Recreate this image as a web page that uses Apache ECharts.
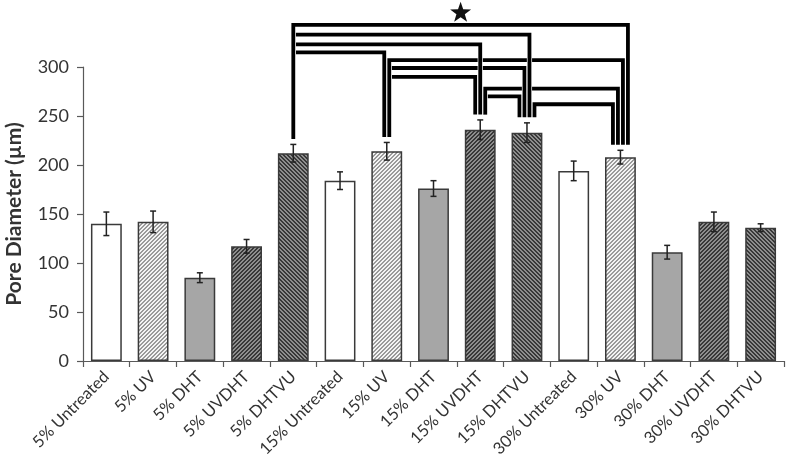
<!DOCTYPE html>
<html><head><meta charset="utf-8">
<script src="https://cdn.jsdelivr.net/npm/echarts@6/dist/echarts.min.js"></script>
<style>html,body{margin:0;padding:0;background:#fff}#c{width:787px;height:462px}</style>
</head><body><div id="c"></div>
<script>
// ---- data ----
const categories = ['5% Untreated','5% UV','5% DHT','5% UVDHT','5% DHTVU',
  '15% Untreated','15% UV','15% DHT','15% UVDHT','15% DHTVU',
  '30% Untreated','30% UV','30% DHT','30% UVDHT','30% DHTVU'];
const values = [140,142,85,117,212,184,214,176,236,233,194,208,111,142,136];
const errors = [12,11,5,7,9,9,9,8,10,10,10,7,7,10,4];
// significance brackets (category indices + bracket height in data units)
const bracketFrom  = [4,4,4,4,6,6,6,8,8,9];
const bracketTo    = [11,9,8,6,11,9,8,11,9,11];
const bracketLevel = [343,333,323,315,307,299,290,278,270,262];
const yTicks = [0,50,100,150,200,250,300];

// ---- styles ----
function makePattern(bg, fg, dir) {
  const n = 8, c = document.createElement('canvas');
  c.width = n; c.height = n;
  const ctx = c.getContext('2d');
  ctx.fillStyle = bg; ctx.fillRect(0,0,n,n);
  ctx.fillStyle = fg;
  for (let y=0;y<n;y++) for (let x=0;x<n;x++) {
    const k = dir > 0 ? (x+y)%4 : (((x-y)%4)+4)%4;
    if (k < 2) ctx.fillRect(x,y,1,1);
  }
  return {image: c, repeat: 'repeat'};
}
const fills = {
  'Untreated': '#ffffff',
  'UV': makePattern('#f4f4f4', '#9a9a9a', 1),
  'DHT': '#a6a6a6',
  'UVDHT': makePattern('#8e8e8e', '#383838', 1),
  'DHTVU': makePattern('#8e8e8e', '#383838', -1)
};
const barData = values.map((v,i) => ({
  value: v,
  itemStyle: {color: fills[categories[i].split(' ')[1]]}
}));

// slots for bracket vertical lines per bar
const incoming = {}, hasOut = {};
bracketFrom.forEach((f,k) => {
  hasOut[f] = true;
  (incoming[bracketTo[k]] = incoming[bracketTo[k]] || []).push(f);
});
function slotOffset(bar, src) { // src undefined => outgoing
  const inc = (incoming[bar] || []).slice().sort((a,b)=>b-a);
  const n = inc.length + (hasOut[bar] ? 1 : 0);
  const k = src === undefined ? inc.length : inc.indexOf(src);
  return (k - (n-1)/2) * 5;
}
const maxLevel = Math.max(...bracketLevel);
const order = bracketLevel.map((l,i)=>i).sort((a,b)=>bracketLevel[a]-bracketLevel[b]);

const chart = echarts.init(document.getElementById('c'));
const font = 'Lato, "Open Sans", sans-serif';
chart.setOption({
  animation: false,
  grid: {left: 83, right: 3, top: 67, bottom: 101, containLabel: false, outerBoundsMode: 'none'},
  xAxis: {
    type: 'category', data: categories,
    axisLine: {lineStyle: {color: '#595959', width: 1.2}},
    axisTick: {show: true, length: 6, lineStyle: {color: '#595959', width: 1.2}},
    axisLabel: {rotate: 45, fontSize: 16.5, color: '#333', fontFamily: font, margin: 13}
  },
  yAxis: {
    type: 'value', min: 0, max: 300, interval: 50,
    name: 'Pore Diameter (µm)', nameLocation: 'middle', nameGap: 58,
    nameTextStyle: {fontSize: 21, fontWeight: 'bold', color: '#333', fontFamily: font},
    axisLine: {show: true, lineStyle: {color: '#595959', width: 1.2}},
    axisTick: {show: true, length: 6, lineStyle: {color: '#595959', width: 1.2}},
    splitLine: {show: false},
    axisLabel: {fontSize: 18, color: '#333', fontFamily: font, margin: 14,
      formatter: v => yTicks.includes(v) ? String(v) : ''}
  },
  series: [
    {
      type: 'bar', data: barData, barWidth: '66%',
      itemStyle: {borderColor: '#3a3a3a', borderWidth: 1.5}
    },
    {
      type: 'custom', z: 5,
      data: values.map((v,i) => [i, v - errors[i], v + errors[i]]),
      renderItem(params, api) {
        const x = api.value(0);
        const lo = api.coord([x, api.value(1)]);
        const hi = api.coord([x, api.value(2)]);
        const w = 3, st = {stroke: '#222', lineWidth: 1.5};
        return {type: 'group', children: [
          {type:'line', shape:{x1:lo[0],y1:lo[1],x2:hi[0],y2:hi[1]}, style: st},
          {type:'line', shape:{x1:lo[0]-w,y1:lo[1],x2:lo[0]+w,y2:lo[1]}, style: st},
          {type:'line', shape:{x1:hi[0]-w,y1:hi[1],x2:hi[0]+w,y2:hi[1]}, style: st}
        ]};
      }
    },
    {
      type: 'custom', z: 6, clip: false,
      data: order.map(i => [bracketFrom[i], bracketTo[i], bracketLevel[i]]),
      renderItem(params, api) {
        const f = api.value(0), t = api.value(1), lv = api.value(2);
        const pf = api.coord([f, values[f] + errors[f]]);
        const pt = api.coord([t, values[t] + errors[t]]);
        const yl = api.coord([f, lv])[1];
        const xf = pf[0] + slotOffset(f);
        const xt = pt[0] + slotOffset(t, f);
        const pts = [[xf, pf[1]-5.5], [xf, yl], [xt, yl], [xt, pt[1]-5.5]];
        const children = [
          {type:'polyline', shape:{points: pts}, style:{stroke:'#fff', lineWidth: 5.2, fill: null, lineJoin:'miter'}},
          {type:'polyline', shape:{points: pts}, style:{stroke:'#000', lineWidth: 3.8, fill: null, lineJoin:'miter'}}
        ];
        if (lv === maxLevel) {
          const cx = (xf + xt) / 2, cy = yl - 12, R = 11, r = 4.4;
          const sp = [];
          for (let k = 0; k < 10; k++) {
            const a = -Math.PI/2 + k * Math.PI/5, rr = k % 2 ? r : R;
            sp.push([cx + rr*Math.cos(a), cy + rr*Math.sin(a)]);
          }
          children.push({type:'polygon', shape:{points: sp}, style:{fill:'#111'}});
        }
        return {type:'group', children};
      }
    }
  ]
});
</script></body></html>
